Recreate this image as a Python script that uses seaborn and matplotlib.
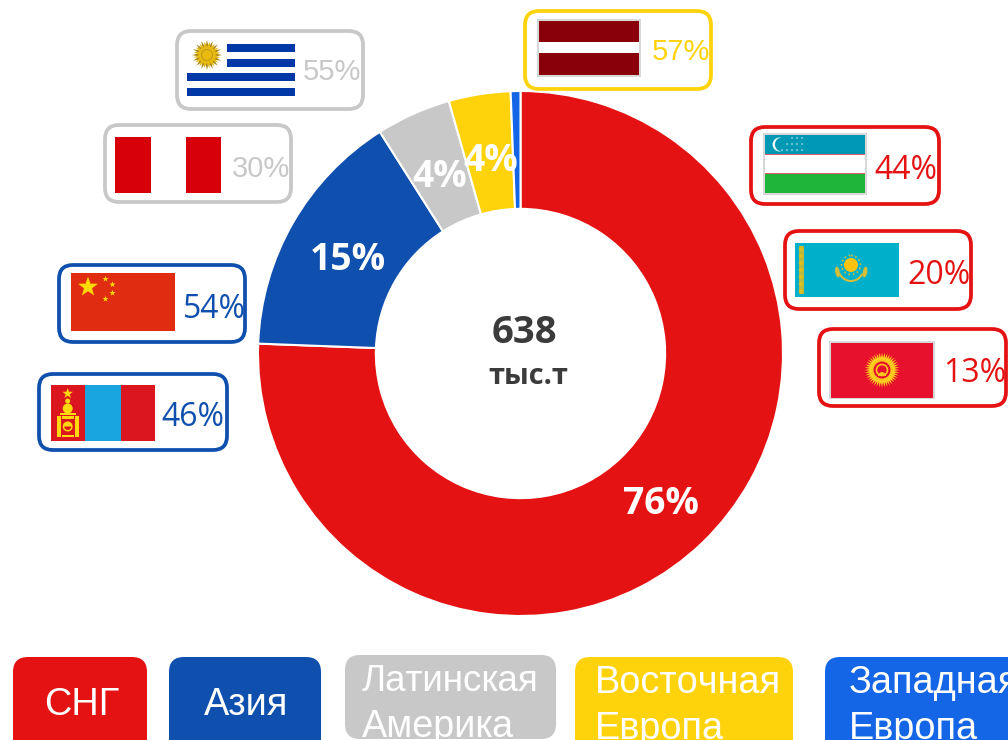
import numpy as np
import matplotlib
matplotlib.use('Agg')
import matplotlib.pyplot as plt
from matplotlib.patches import Rectangle, FancyBboxPatch, Circle, Polygon, Wedge, Arc, Ellipse
import seaborn as sns

# данные диаграммы
regions = ['СНГ', 'Азия', 'Латинская\nАмерика', 'Восточная\nЕвропа', 'Западная\nЕвропа']
shares = [75.6, 15.4, 4.6, 3.8, 0.6]
share_labels = ['76%', '15%', '4%', '4%', '']
total_value = '638'
total_unit = 'тыс.т'

uz_kz_kg = ['44%', '20%', '13%']
cn_mn = ['54%', '46%']
uy_pe = ['55%', '30%']
lv = ['57%']

RED, BLUE, GRAY, YELLOW, LBLUE = '#E41212', '#0F4FAD', '#C8C8C8', '#FFD30C', '#1466E6'

sns.set_theme(style='white')
plt.rcParams['text.kerning_factor'] = 6
palette = sns.color_palette([RED, BLUE, GRAY, YELLOW, LBLUE])

W, H = 1008, 740
fig = plt.figure(figsize=(W / 100, H / 100), dpi=100)

# кольцо
R = 262.5
cx, cy = 520.5, 353.5
ax = fig.add_axes([(cx - R) / W, 1 - (cy + R) / H, 2 * R / W, 2 * R / H])
wedges, texts = ax.pie(shares, colors=palette, startangle=90, counterclock=False, radius=1,
                       labels=share_labels, labeldistance=0.765,
                       wedgeprops=dict(width=0.449, edgecolor='white', linewidth=1.5))
for t in texts:
    t.set(ha='center', va='center', color='white', fontsize=26.8, fontweight='bold', family='Open Sans')
    tx_pos, ty_pos = t.get_position()
    t.set_position((tx_pos + 0.005, ty_pos - 0.024))
ax.set_xlim(-1, 1)
ax.set_ylim(-1, 1)

# слой в пикселях для плашек и флагов
ov = fig.add_axes([0, 0, 1, 1], facecolor='none')
ov.set_xlim(0, W)
ov.set_ylim(H, 0)
ov.axis('off')

ov.text(524.5, 343, total_value, ha='center', va='baseline', fontsize=27.5, fontweight='bold',
        color='#3B3B3B', family='Open Sans')
ov.text(528, 384, total_unit, ha='center', va='baseline', fontsize=21, fontweight='bold',
        color='#3B3B3B', family='Open Sans')


def rect(x0, y0, x1, y1, color, **kw):
    ov.add_patch(Rectangle((x0, y0), x1 - x0, y1 - y0, facecolor=color, edgecolor='none', **kw))


def star(x, y, r, color, n=5, inner=0.4, rot=-90, **kw):
    a = np.deg2rad(rot + np.arange(2 * n) * 180 / n)
    rr = np.where(np.arange(2 * n) % 2 == 0, r, r * inner)
    ov.add_patch(Polygon(np.c_[x + rr * np.cos(a), y + rr * np.sin(a)], closed=True,
                         facecolor=color, edgecolor='none', **kw))


def box(x0, y0, x1, y1, color, txt, tx, ty, font, size):
    ov.add_patch(FancyBboxPatch((x0, y0), x1 - x0, y1 - y0, boxstyle='round,pad=0,rounding_size=14',
                                facecolor='white', edgecolor=color, linewidth=2.7))
    ov.text(tx, ty, txt, color=color, family=font, fontsize=size, ha='left', va='baseline')


# плашки стран
box(177, 31, 363, 109, GRAY, uy_pe[0], 303, 80, 'Liberation Sans', 21)
box(105, 125, 291, 202, GRAY, uy_pe[1], 232, 177, 'Liberation Sans', 21)
box(59, 265, 245, 342, BLUE, cn_mn[0], 182.5, 318, 'Open Sans', 23)
box(39, 374, 227, 450, BLUE, cn_mn[1], 161.5, 426, 'Open Sans', 23)
box(751, 127, 939, 204, RED, uz_kz_kg[0], 874.5, 179, 'Open Sans', 23)
box(785, 231, 971, 309, RED, uz_kz_kg[1], 907.5, 284, 'Open Sans', 23)
box(819, 329, 1006, 406, RED, uz_kz_kg[2], 943.5, 382, 'Open Sans', 23)
box(525, 11, 711, 89, YELLOW, lv[0], 652, 60, 'Liberation Sans', 21)

# Уругвай
for y0, y1, x0 in [(44, 52, 227), (59, 67, 227), (73, 81, 187), (88, 96, 187)]:
    rect(x0, y0, 295, y1, '#0038A8')
star(207, 55, 15, '#A98A1E', n=16, inner=0.55)
star(207, 55, 13.5, '#E8B90F', n=16, inner=0.6, rot=-78)
ov.add_patch(Circle((207, 55), 5.5, facecolor='#E8B90F', edgecolor='#A98A1E', linewidth=0.5))

# Перу
rect(115, 137, 150.5, 193, '#D80008')
rect(185.5, 137, 221, 193, '#D80008')

# Китай
rect(71, 273, 175, 331, '#E02C10')
star(88, 287, 10.5, '#FFD800')
for sx, sy in [(105.5, 279), (112.5, 284.5), (112.5, 293), (105.5, 299)]:
    star(sx, sy, 3.2, '#FFD800')

# Монголия
rect(51, 385, 85, 441, '#DC161E')
rect(85, 385, 121, 441, '#19A6E0')
rect(121, 385, 155, 441, '#DC161E')
sy_col = '#FFD80E'
star(67.7, 393.5, 5.5, sy_col)
ov.add_patch(Circle((67.7, 401), 2.5, facecolor=sy_col, edgecolor='none'))
ov.add_patch(Circle((67.7, 408.5), 5, facecolor=sy_col, edgecolor='none'))
rect(60, 412.5, 75.5, 415, sy_col)
rect(57, 416, 61, 437, sy_col)
rect(75, 416, 79, 437, sy_col)
rect(62, 416, 74, 419, sy_col)
rect(62, 434.5, 74, 437, sy_col)
ov.add_patch(Circle((67.7, 426.5), 5, facecolor=sy_col, edgecolor='none'))
ov.add_patch(Wedge((67.7, 426.5), 3.5, 0, 180, facecolor='#DC161E', edgecolor='none'))

# Узбекистан
rect(763, 133, 867, 195, '#D8D8D8')
rect(765, 135, 865, 154, '#0099B5')
rect(765, 154, 865, 155, '#DF5A6A')
rect(765, 155, 865, 173, 'white')
rect(765, 173, 865, 174, '#DF5A6A')
rect(765, 174, 865, 193, '#1EB53A')
ov.add_patch(Circle((779.5, 144.5), 7, facecolor='#E8F6F8', edgecolor='none'))
ov.add_patch(Circle((782, 144.5), 7, facecolor='#0099B5', edgecolor='none'))
uz_rows = [(138, [792, 797, 802]), (144, [787, 792, 797, 802]), (150, [782, 787, 792, 797, 802])]
for dy, xs in uz_rows:
    for dx in xs:
        ov.add_patch(Circle((dx, dy), 0.8, facecolor='#BFE6EE', edgecolor='none'))

# Казахстан
rect(795, 243, 899, 297, '#00AFCA')
rect(798.5, 246, 804, 294, '#B9B93C')
for oy in range(249, 294, 7):
    star(801.2, oy, 3, '#E0C020', n=4, inner=0.5)
ov.add_patch(Circle((851, 265), 7, facecolor='#FFC20E', edgecolor='none'))
ov.add_patch(Circle((851, 265), 9.5, facecolor='none', edgecolor='#D6BE3A', linewidth=1.2, linestyle=':'))
ov.add_patch(Arc((851, 267), 26, 28, theta1=30, theta2=150, edgecolor='#D6BE3A', linewidth=1.5))
ov.add_patch(Ellipse((837.5, 272), 4.5, 11, angle=-10, facecolor='#D6BE3A', edgecolor='none'))
ov.add_patch(Ellipse((865, 272), 4.5, 11, angle=10, facecolor='#D6BE3A', edgecolor='none'))

# Киргизия
rect(829, 341, 935, 399, '#D8D8D8')
rect(831, 343, 933, 398, '#E8112D')
star(882, 370, 17.5, '#FFD21E', n=40, inner=0.7)
ov.add_patch(Circle((882, 370), 11, facecolor='#FFC61E', edgecolor='none'))
ov.add_patch(Circle((882, 370), 8.5, facecolor='#E8112D', edgecolor='none'))
ov.add_patch(Circle((882, 370), 5.5, facecolor='none', edgecolor='#FFC61E', linewidth=1.2))
ov.add_patch(Wedge((882, 376), 4, 180, 360, facecolor='#FFC61E', edgecolor='none'))

# Латвия
rect(537, 19, 641, 77, '#D8D8D8')
rect(539, 21, 639, 42, '#8A000A')
rect(539, 42, 639, 53, 'white')
rect(539, 53, 639, 75, '#8A000A')

# легенда снизу
legend_x = [(13, 147), (169, 321), (345, 556), (575, 793), (825, 1040)]
legend_y = [(657, 770), (657, 770), (655, 739), (657, 770), (657, 770)]
text_x = [82, 246, 362, 595, 849]
for i, name in enumerate(regions):
    x0, x1 = legend_x[i]
    y0, y1 = legend_y[i]
    ov.add_patch(FancyBboxPatch((x0, y0), x1 - x0, y1 - y0, boxstyle='round,pad=0,rounding_size=15',
                                facecolor=palette[i], edgecolor='none'))
    if '\n' in name:
        first, second = name.split('\n')
        base = 691 if i == 2 else 693
        first_size = 26.5 if i == 2 else 27.3
        ov.text(text_x[i], base, first, color='white', family='Liberation Sans', fontsize=first_size, va='baseline')
        ov.text(text_x[i], base + 46, second, color='white', family='Liberation Sans', fontsize=27.3, va='baseline')
    else:
        ov.text(text_x[i], 715, name, color='white', family='Liberation Sans', fontsize=27.3,
                ha='center', va='baseline')

fig.savefig('out.png', dpi=100)
